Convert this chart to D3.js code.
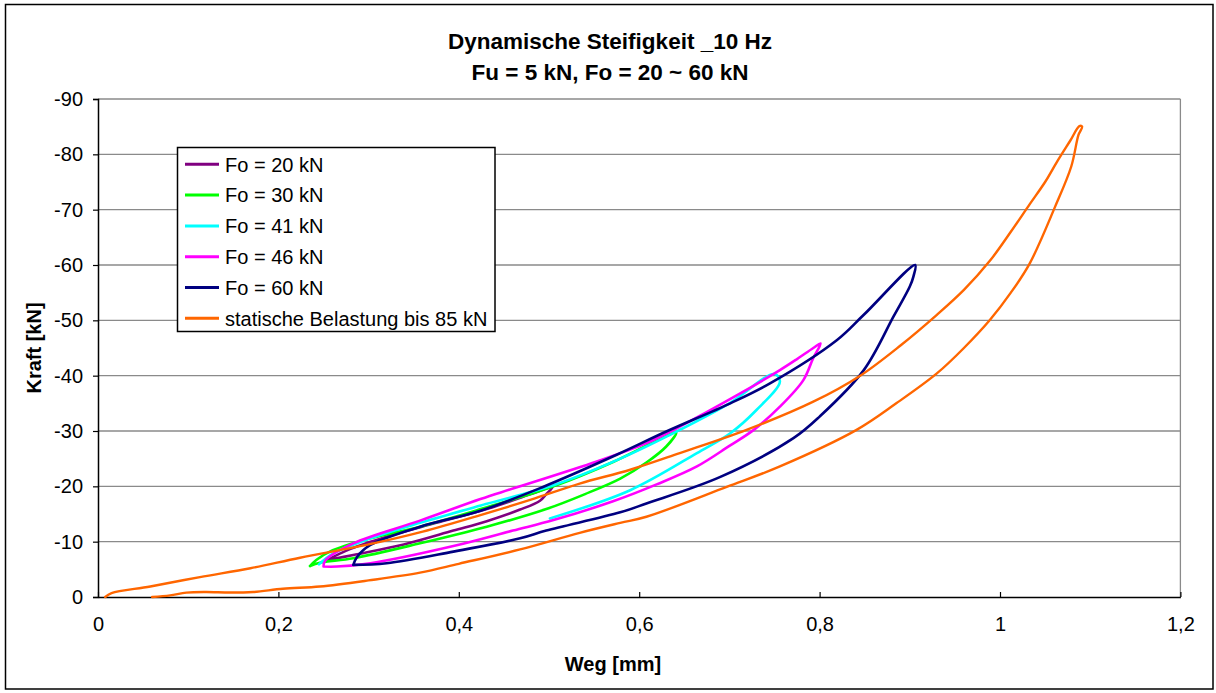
<!DOCTYPE html>
<html>
<head>
<meta charset="utf-8">
<script src="https://cdn.jsdelivr.net/npm/d3@7"></script>
<style>
  body { margin: 0; background: #fff; }
  text { font-family: Arial, "Liberation Sans", sans-serif; fill: #000; }
</style>
</head>
<body>
<svg id="chart" width="1216" height="693"></svg>
<script>
// ---- Chart text ----
const titleLines = ["Dynamische Steifigkeit _10 Hz", "Fu = 5 kN, Fo = 20 ~ 60 kN"];
const xAxisTitle = "Weg [mm]";
const yAxisTitle = "Kraft [kN]";

// ---- Axis ticks ----
const xTickValues = [0, 0.2, 0.4, 0.6, 0.8, 1, 1.2];
const yTickValues = [0, -10, -20, -30, -40, -50, -60, -70, -80, -90];

// ---- Series (Weg [mm], Kraft [kN]) ----
const seriesNames = ["Fo = 20 kN", "Fo = 30 kN", "Fo = 41 kN", "Fo = 46 kN", "Fo = 60 kN", "statische Belastung bis 85 kN"];
const seriesColors = ["#800080", "#00ff00", "#00ffff", "#ff00ff", "#000080", "#ff6600"];

const fo20 = [
  [0.253, -6.6], [0.283, -7.6], [0.339, -9.5], [0.394, -12.0], [0.431, -13.7], [0.468, -15.8],
  [0.490, -17.4], [0.497, -18.6], [0.504, -19.9],
  [0.480, -18.6], [0.431, -15.9], [0.375, -13.4], [0.320, -10.9], [0.280, -8.7], [0.253, -6.6]
];
const fo30 = [
  [0.235, -5.6], [0.246, -6.2], [0.283, -7.0], [0.357, -9.7], [0.431, -12.7], [0.497, -15.9],
  [0.540, -18.6], [0.579, -21.4], [0.608, -24.3], [0.630, -27.2], [0.641, -29.7],
  [0.620, -28.3], [0.571, -24.4], [0.505, -20.0], [0.431, -16.2], [0.357, -12.7],
  [0.302, -10.6], [0.257, -8.2], [0.242, -6.7], [0.235, -5.6]
];
const fo41 = [
  [0.245, -5.9], [0.260, -7.8], [0.300, -10.5], [0.357, -13.4], [0.430, -16.8], [0.505, -20.2],
  [0.579, -25.0], [0.645, -30.2], [0.700, -35.0], [0.750, -40.3],
  [0.756, -38.9], [0.730, -33.8], [0.701, -29.6], [0.664, -26.0], [0.590, -19.3], [0.501, -14.2]
];
const fo46 = [
  [0.250, -5.5], [0.265, -5.5], [0.302, -6.1], [0.394, -9.2], [0.460, -12.0], [0.505, -13.9],
  [0.571, -17.3], [0.620, -20.4], [0.664, -23.6], [0.700, -27.3], [0.727, -30.2], [0.756, -34.4],
  [0.782, -39.2], [0.793, -43.2], [0.801, -45.8],
  [0.793, -45.0], [0.775, -43.0], [0.756, -41.0], [0.712, -36.8], [0.645, -30.8], [0.608, -27.8],
  [0.553, -24.5], [0.460, -19.6], [0.424, -17.7], [0.357, -13.8], [0.283, -9.7], [0.252, -6.6], [0.250, -5.5]
];
const fo60 = [
  [0.283, -5.8], [0.320, -6.1], [0.394, -8.2], [0.468, -10.6], [0.497, -12.0], [0.579, -15.3],
  [0.608, -16.9], [0.690, -21.7], [0.771, -28.7], [0.800, -32.6], [0.849, -41.0], [0.882, -50.7],
  [0.900, -56.1], [0.904, -57.9], [0.906, -60.0],
  [0.849, -51.0], [0.819, -46.4], [0.745, -38.6], [0.701, -35.0], [0.630, -29.9], [0.575, -25.7],
  [0.492, -19.8], [0.424, -15.6], [0.357, -12.7], [0.302, -9.4], [0.287, -7.2], [0.283, -5.8]
];
const statisch = [
  [0.008, 0.0], [0.015, -0.7], [0.058, -1.9], [0.113, -3.6], [0.169, -5.2], [0.224, -7.1],
  [0.300, -9.5], [0.360, -11.8], [0.424, -14.8], [0.480, -17.6], [0.534, -20.5], [0.590, -23.0],
  [0.645, -26.0], [0.719, -30.2], [0.793, -35.3], [0.845, -40.0], [0.890, -45.5], [0.930, -51.0],
  [0.960, -55.5], [0.989, -60.8], [1.012, -66.0], [1.033, -71.0], [1.050, -75.0], [1.063, -78.6],
  [1.078, -82.5], [1.088, -85.1], [1.091, -85.0],
  [1.087, -83.5], [1.079, -77.8], [1.061, -70.5], [1.033, -60.3], [1.012, -55.0], [0.989, -50.1],
  [0.960, -45.0], [0.930, -40.4], [0.885, -35.0], [0.841, -30.2], [0.756, -23.6], [0.697, -19.9],
  [0.608, -14.5], [0.579, -13.4], [0.534, -11.6], [0.468, -8.6], [0.400, -6.0], [0.357, -4.4],
  [0.300, -3.0], [0.246, -1.9], [0.205, -1.5], [0.172, -0.9], [0.146, -0.8], [0.120, -0.9],
  [0.098, -0.8], [0.080, -0.3], [0.060, 0.0]
];
const seriesData = [fo20, fo30, fo41, fo46, fo60, statisch];

// ---- Layout ----
const svg = d3.select("#chart");
const plot = { left: 98, right: 1180.4, top: 99, bottom: 597 };

const x = d3.scaleLinear().domain([0, 1.2]).range([plot.left, plot.right]);
const y = d3.scaleLinear().domain([0, -90]).range([plot.bottom, plot.top]);

// German number style: comma decimals, plain hyphen for negatives
const deLocale = d3.formatLocale({ decimal: ",", thousands: ".", grouping: [3], currency: ["", " €"], minus: "-" });
const fmtX = deLocale.format("~g");
const fmtY = deLocale.format("d");

// Outer chart frame
svg.append("rect")
  .attr("x", 5.5).attr("y", 4.5).attr("width", 1207.5).attr("height", 684.5)
  .attr("fill", "#fff").attr("stroke", "#000").attr("stroke-width", 1.5);

// Horizontal gridlines
svg.append("g").selectAll("line").data(yTickValues.filter(v => v !== 0)).join("line")
  .attr("x1", plot.left).attr("x2", plot.right)
  .attr("y1", d => y(d)).attr("y2", d => y(d))
  .attr("stroke", "#8a8a8a").attr("stroke-width", 1.3);

// Right border of plot area
svg.append("line")
  .attr("x1", plot.right).attr("x2", plot.right).attr("y1", plot.top).attr("y2", plot.bottom)
  .attr("stroke", "#8a8a8a").attr("stroke-width", 1.3);

// Y axis
const yAxis = svg.append("g").attr("transform", `translate(${plot.left},0)`)
  .call(d3.axisLeft(y).tickValues(yTickValues).tickSize(5).tickPadding(10).tickFormat(fmtY));
yAxis.select(".domain").attr("stroke", "#000").attr("stroke-width", 1.5);
yAxis.selectAll(".tick line").attr("stroke", "#000").attr("stroke-width", 1.2);
yAxis.selectAll("text").style("font-size", "20px").attr("fill", "#000");

// X axis (ticks point into the plot)
const xAxis = svg.append("g").attr("transform", `translate(0,${plot.bottom})`)
  .call(d3.axisBottom(x).tickValues(xTickValues).tickSizeInner(-5).tickSizeOuter(0).tickPadding(20).tickFormat(fmtX));
xAxis.select(".domain").attr("stroke", "#000").attr("stroke-width", 1.5);
xAxis.selectAll(".tick line").attr("stroke", "#000").attr("stroke-width", 1.2);
xAxis.selectAll("text").style("font-size", "20px").attr("fill", "#000");

// Series
const line = d3.line().x(d => x(d[0])).y(d => y(d[1])).curve(d3.curveCatmullRom.alpha(0.5));
svg.append("g").selectAll("path").data(seriesData).join("path")
  .attr("d", d => line(d))
  .attr("fill", "none")
  .attr("stroke", (d, i) => seriesColors[i])
  .attr("stroke-width", (d, i) => i === 5 ? 2.4 : 2.6)
  .attr("stroke-linejoin", "round")
  .attr("stroke-linecap", "round");

// Titles
svg.append("g").selectAll("text").data(titleLines).join("text")
  .attr("x", 610).attr("y", (d, i) => 48.5 + i * 31)
  .attr("text-anchor", "middle")
  .style("font-size", "22.5px").style("font-weight", "bold")
  .text(d => d);

svg.append("text")
  .attr("x", 613).attr("y", 670.5)
  .attr("text-anchor", "middle")
  .style("font-size", "20px").style("font-weight", "bold")
  .text(xAxisTitle);

svg.append("text")
  .attr("transform", `translate(40.5,348) rotate(-90)`)
  .attr("text-anchor", "middle")
  .style("font-size", "20px").style("font-weight", "bold")
  .text(yAxisTitle);

// Legend
const legend = svg.append("g");
legend.append("rect")
  .attr("x", 177.5).attr("y", 147.5).attr("width", 317.5).attr("height", 184)
  .attr("fill", "#fff").attr("stroke", "#000").attr("stroke-width", 1.5);
const items = legend.selectAll("g.item").data(seriesNames).join("g")
  .attr("class", "item")
  .attr("transform", (d, i) => `translate(0,${164.3 + i * 30.8})`);
items.append("line")
  .attr("x1", 185).attr("x2", 219).attr("y1", 0).attr("y2", 0)
  .attr("stroke", (d, i) => seriesColors[i]).attr("stroke-width", 3);
items.append("text")
  .attr("x", 225).attr("y", 0).attr("dy", "0.36em")
  .style("font-size", "20px")
  .text(d => d);
</script>
</body>
</html>
